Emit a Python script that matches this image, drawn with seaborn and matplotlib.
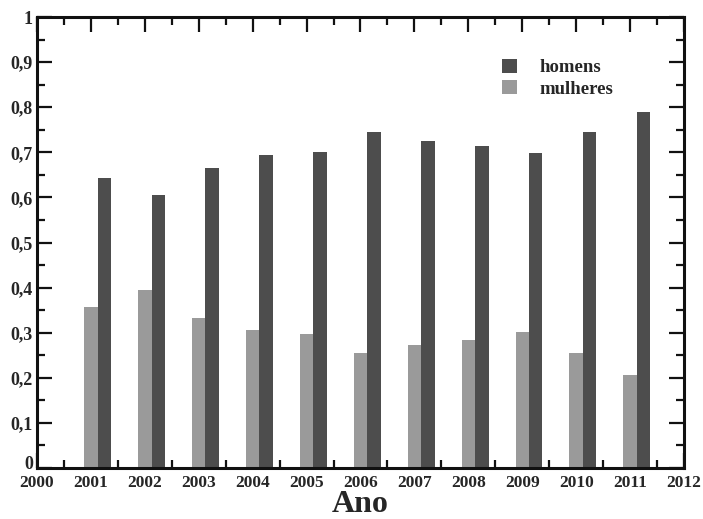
import matplotlib
matplotlib.use("Agg")
import matplotlib.pyplot as plt
import matplotlib.transforms as mtransforms
import seaborn as sns
import pandas as pd
import numpy as np
from matplotlib.patches import Patch
from matplotlib.ticker import MultipleLocator

years = [2001, 2002, 2003, 2004, 2005, 2006, 2007, 2008, 2009, 2010, 2011]
homens = [0.642, 0.605, 0.665, 0.693, 0.700, 0.745, 0.725, 0.713, 0.698, 0.745, 0.790]
mulheres = [0.357, 0.395, 0.333, 0.305, 0.298, 0.255, 0.272, 0.284, 0.301, 0.255, 0.207]
y_ticks = [0, 0.1, 0.2, 0.3, 0.4, 0.5, 0.6, 0.7, 0.8, 0.9, 1]
y_labels = ["0", "0,1", "0,2", "0,3", "0,4", "0,5", "0,6", "0,7", "0,8", "0,9", "1"]
x_ticks = list(range(2000, 2013))

sns.set_style("white")
plt.rcParams['font.family'] = ['Liberation Serif', 'DejaVu Serif']
plt.rcParams['font.weight'] = 'bold'

c_h = "#4d4d4d"
c_m = "#9a9a9a"

fig = plt.figure(figsize=(7.03, 5.19), dpi=100)
ax = fig.add_axes([0.0526, 0.0983, 0.9204, 0.8689])

df_m = pd.DataFrame({"x": np.array(years, dtype=float), "v": mulheres})
df_h = pd.DataFrame({"x": np.array(years, dtype=float) + 0.25, "v": homens})

sns.barplot(data=df_m, x="x", y="v", native_scale=True, width=0.25,
            color=c_m, saturation=1, ax=ax, zorder=1)
sns.barplot(data=df_h, x="x", y="v", native_scale=True, width=0.25,
            color=c_h, saturation=1, ax=ax, zorder=1)
for p in ax.patches:
    p.set_edgecolor("none")

ax.set_xlim(2000, 2012)
ax.set_ylim(0, 1)
ax.set_xticks(x_ticks)
ax.set_xticklabels([str(x) for x in x_ticks], fontsize=12.5, fontweight='bold')
ax.set_yticks(y_ticks)
ax.set_yticklabels(y_labels, fontsize=13, fontweight='bold')
ax.xaxis.set_minor_locator(MultipleLocator(0.5))
ax.yaxis.set_minor_locator(MultipleLocator(0.05))
ax.tick_params(which='major', direction='in', length=11, width=1.6,
               top=True, right=True, bottom=True, left=True, color='#111111')
ax.tick_params(which='minor', direction='in', length=6, width=1.6,
               top=True, right=True, bottom=True, left=True, color='#111111')
ax.tick_params(axis='x', which='major', pad=5)
ax.tick_params(axis='y', which='major', pad=3)
for s in ax.spines.values():
    s.set_linewidth(2.2)
    s.set_color('#111111')
    s.set_visible(True)

# lift the "0" label slightly, as in the reference
lbl0 = ax.get_yticklabels()[0]
lbl0.set_transform(lbl0.get_transform() +
                   mtransforms.ScaledTranslation(0, 4 / 72, fig.dpi_scale_trans))

ax.set_xlabel("Ano", fontsize=23, fontweight='bold', labelpad=-1)
ax.set_ylabel("")

handles = [Patch(facecolor=c_h, edgecolor='none', label='homens'),
           Patch(facecolor=c_m, edgecolor='none', label='mulheres')]
ax.legend(handles=handles, loc='upper left', bbox_to_anchor=(0.693, 0.945),
          frameon=False, prop={'weight': 'bold', 'size': 13.5},
          handlelength=0.8, handleheight=0.8, handletextpad=1.2, labelspacing=0.2)

fig.savefig("out.png", dpi=100)
